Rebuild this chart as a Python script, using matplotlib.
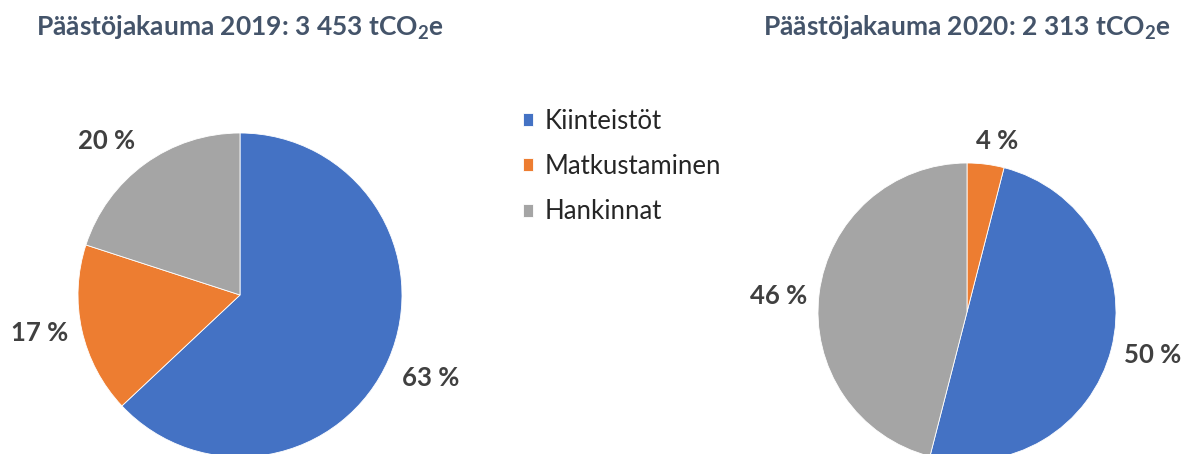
#!/usr/bin/env python

"""
Two pies: emission shares 2019 and 2020 by category.
"""

import matplotlib.pyplot as plt

categories = ['Kiinteistöt', 'Matkustaminen', 'Hankinnat']
share_2019 = [63, 17, 20]
share_2020 = [50, 4, 46]
total_2019 = '3 453'
total_2020 = '2 313'

colors = ['#4472C4', '#ED7D31', '#A5A5A5']


def draw_pie(ax, values, start, counterclock, labels_at):
    """ draw one pie, centre and radius are in pixels of the figure """
    wedges, _ = ax.pie(values, colors=colors, startangle=start,
                       counterclock=counterclock,
                       center=labels_at['center'], radius=labels_at['radius'],
                       wedgeprops=dict(edgecolor='white', linewidth=0.6))
    for val, (x, y) in zip(values, labels_at['text']):
        ax.text(x, y, f'{val} %', ha='center', va='center', fontsize=18.5,
                fontweight='bold', color='#404040')
    return wedges


def main():
    """ main body """
    plt.rcParams['font.family'] = ['Lato', 'DejaVu Sans']
    plt.rcParams['mathtext.fontset'] = 'custom'
    plt.rcParams['mathtext.rm'] = 'Lato:bold'
    plt.rcParams['mathtext.it'] = 'Lato:bold'
    plt.rcParams['mathtext.default'] = 'rm'

    fig = plt.figure(figsize=(11.9, 4.54), dpi=100)
    ax = fig.add_axes([0, 0, 1, 1])

    h = 454
    left = dict(center=(240, h - 295), radius=162,
                text=[(431, h - 378), (40, h - 333), (107, h - 141)])
    right = dict(center=(967, h - 312), radius=149,
                 text=[(1153, h - 355), (997, h - 141), (779, h - 296)])

    wedges = draw_pie(ax, share_2019, 90, False, left)
    # 2020 pie: Matkustaminen sits just right of twelve o'clock
    start = 90 - 3.6 * (share_2020[0] + share_2020[1])
    draw_pie(ax, share_2020, start, True, right)

    ax.set_xlim(0, 1190)
    ax.set_ylim(0, h)
    ax.set_aspect('equal')
    ax.axis('off')

    title_kw = dict(ha='center', va='center', fontsize=19,
                    fontweight='bold', color='#44546A')
    ax.text(240, h - 28, f'Päästöjakauma 2019: {total_2019} tCO$_2$e', **title_kw)
    ax.text(967, h - 28, f'Päästöjakauma 2020: {total_2020} tCO$_2$e', **title_kw)

    ax.legend(wedges, categories, loc='upper left',
              bbox_to_anchor=(500 / 1190, 1 - 86 / h), frameon=False,
              fontsize=18.5, handlelength=0.4, handleheight=0.4,
              handletextpad=0.45, labelspacing=0.78, labelcolor='#262626')

    fig.savefig('out.png', dpi=100)


if __name__ == "__main__":
    main()
